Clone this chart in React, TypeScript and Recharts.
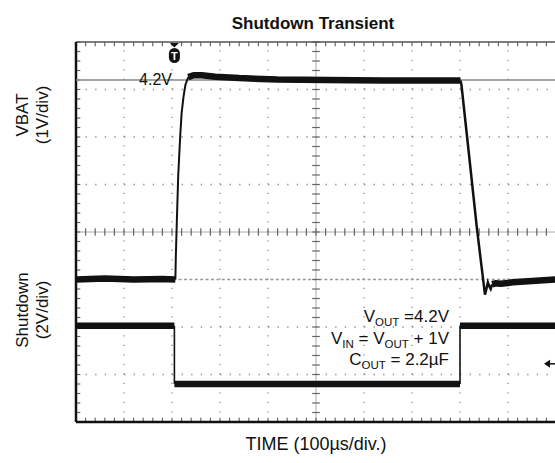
import React from 'react';
import { LineChart, Line, XAxis, YAxis, ReferenceLine, ReferenceDot } from 'recharts';

// time in µs (10 div x 100µs), VBAT in V (1V/div), Shutdown in V (2V/div)
const vbatLowT = [0, 60, 120, 180, 207];
const vbatLowV = [0.0, 0.02, 0.0, 0.01, 0.0];
const vbatRiseT = [207, 208, 210, 213, 217, 220, 224, 228, 234];
const vbatRiseV = [0.0, 0.5, 1.2, 2.2, 3.0, 3.5, 3.85, 4.1, 4.26];
const vbatHighT = [234, 245, 262, 290, 340, 420, 520, 640, 760, 801];
const vbatHighV = [4.26, 4.3, 4.3, 4.27, 4.24, 4.21, 4.2, 4.19, 4.19, 4.19];
const vbatFallT = [801, 803, 818, 835, 852, 855, 858, 861, 864, 867];
const vbatFallV = [4.19, 4.1, 2.7, 1.1, -0.32, -0.2, -0.06, -0.14, -0.2, -0.1];
const vbatTailT = [867, 874, 885, 910, 950, 1000];
const vbatTailV = [-0.1, -0.08, -0.09, -0.06, -0.03, 0.0];

const sdHighAT = [0, 100, 205];
const sdHighAV = [2.45, 2.45, 2.45];
const sdFallT = [205, 205];
const sdFallV = [2.45, 0];
const sdLowT = [205, 500, 800];
const sdLowV = [0, 0, 0];
const sdRiseT = [800, 800];
const sdRiseV = [0, 2.45];
const sdHighBT = [800, 900, 1000];
const sdHighBV = [2.45, 2.45, 2.45];

const VBAT_REF = 4.2;
const TRIGGER_T = 205;
const TRIGGER_LEVEL = 0.85; // shutdown axis

const zip = (t: number[], v: number[]) => t.map((x, i) => ({ t: x, v: v[i] }));
const range = (a: number, b: number, s: number) => {
  const out: number[] = [];
  for (let x = a; x <= b + 1e-9; x += s) out.push(+x.toFixed(3));
  return out;
};

const FONT = '"Liberation Sans", Arial, sans-serif';
const INK = '#111';
const GRID = '#8a8a8a';
const TICK = '#666';

const minorT = range(0, 1000, 20);
const minorV = range(-3, 5, 0.2);
const majorT = [100, 200, 300, 400, 600, 700, 800, 900];
const majorV = [-2, -1, 2, 3, 4];

const TriggerMark = (p: any) => {
  const { cx, cy } = p;
  return (
    <g>
      <path d={`M${cx - 4.5},${cy + 1} L${cx + 4.5},${cy + 1} L${cx},${cy + 5.5} Z`} fill={INK} />
      <rect x={cx - 5.5} y={cy + 6} width={11} height={15} rx={5.5} fill={INK} />
      <text x={cx} y={cy + 18} textAnchor="middle" fill="#fff" fontSize={11} fontWeight="bold" fontFamily={FONT}>T</text>
    </g>
  );
};

const LevelMark = (p: any) => {
  const { cx, cy } = p;
  return (
    <g>
      <line x1={cx - 8} y1={cy} x2={cx - 1} y2={cy} stroke={INK} strokeWidth={1.5} />
      <path d={`M${cx - 12},${cy} L${cx - 6},${cy - 4} L${cx - 6},${cy + 4} Z`} fill={INK} />
    </g>
  );
};

export default function App() {
  const thick = { stroke: INK, strokeWidth: 6.5, dot: false, isAnimationActive: false, strokeLinejoin: 'round' as const };
  const thin = { stroke: INK, strokeWidth: 2, dot: false, isAnimationActive: false };
  const tickLine = { stroke: TICK, strokeWidth: 1.2, ifOverflow: 'visible' as const, yAxisId: 'vbat' };
  const sub = 11.5;

  return (
    <div style={{ position: 'absolute', left: 0, top: 0, width: 555, height: 463, overflow: 'hidden', background: '#fff', fontFamily: FONT }}>
      <LineChart width={556} height={463} margin={{ top: 42, right: 0, bottom: 41, left: 76 }}>
        <XAxis type="number" dataKey="t" domain={[0, 1000]} hide allowDataOverflow />
        <YAxis yAxisId="vbat" type="number" domain={[-3, 5]} hide allowDataOverflow />
        <YAxis yAxisId="sd" type="number" domain={[-1.6, 14.4]} hide allowDataOverflow />

        {majorT.map((t) => (
          <ReferenceLine key={`gx${t}`} x={t} yAxisId="vbat" stroke={GRID} strokeWidth={1.3} strokeDasharray="1.3 8.2" />
        ))}
        {majorV.map((v) => (
          <ReferenceLine key={`gy${v}`} y={v} yAxisId="vbat" stroke={GRID} strokeWidth={1.3} strokeDasharray="1.3 8.3" />
        ))}
        <ReferenceLine y={0} yAxisId="vbat" stroke="#999" strokeWidth={1.6} strokeDasharray="3 2.4" />
        <ReferenceLine x={500} yAxisId="vbat" stroke="#aaa" strokeWidth={1} />
        <ReferenceLine y={1} yAxisId="vbat" stroke="#aaa" strokeWidth={1} />

        {minorT.map((t) => (
          <ReferenceLine key={`cx${t}`} {...tickLine} segment={[{ x: t, y: 0.92 }, { x: t, y: 1.08 }]} />
        ))}
        {minorV.map((v) => (
          <ReferenceLine key={`cy${v}`} {...tickLine} segment={[{ x: 492, y: v }, { x: 508, y: v }]} />
        ))}
        {minorT.map((t) => (
          <ReferenceLine key={`bx${t}`} {...tickLine} segment={[{ x: t, y: -3 }, { x: t, y: -2.91 }]} />
        ))}
        {minorT.map((t) => (
          <ReferenceLine key={`tx${t}`} {...tickLine} segment={[{ x: t, y: 5 }, { x: t, y: 4.91 }]} />
        ))}
        {minorV.map((v) => (
          <ReferenceLine key={`ly${v}`} {...tickLine} segment={[{ x: 0, y: v }, { x: 9, y: v }]} />
        ))}

        <ReferenceLine y={5} yAxisId="vbat" stroke="#555" strokeWidth={1.5} />
        <ReferenceLine x={1000} yAxisId="vbat" stroke="#777" strokeWidth={1} />
        <ReferenceLine y={-3} yAxisId="vbat" stroke={INK} strokeWidth={2.5} />
        <ReferenceLine x={0} yAxisId="vbat" stroke={INK} strokeWidth={2.5} />

        <ReferenceLine y={VBAT_REF} yAxisId="vbat" stroke="#888" strokeWidth={1.3} />

        <Line yAxisId="vbat" data={zip(vbatLowT, vbatLowV)} dataKey="v" {...thick} />
        <Line yAxisId="vbat" data={zip(vbatRiseT, vbatRiseV)} dataKey="v" {...thin} />
        <Line yAxisId="vbat" data={zip(vbatHighT, vbatHighV)} dataKey="v" {...thick} />
        <Line yAxisId="vbat" data={zip(vbatFallT, vbatFallV)} dataKey="v" {...thin} strokeWidth={2.5} />
        <Line yAxisId="vbat" data={zip(vbatTailT, vbatTailV)} dataKey="v" {...thick} />

        <Line yAxisId="sd" data={zip(sdHighAT, sdHighAV)} dataKey="v" {...thick} />
        <Line yAxisId="sd" data={zip(sdFallT, sdFallV)} dataKey="v" {...thin} strokeWidth={1.6} />
        <Line yAxisId="sd" data={zip(sdLowT, sdLowV)} dataKey="v" {...thick} />
        <Line yAxisId="sd" data={zip(sdRiseT, sdRiseV)} dataKey="v" {...thin} strokeWidth={1.6} />
        <Line yAxisId="sd" data={zip(sdHighBT, sdHighBV)} dataKey="v" {...thick} />

        <ReferenceDot x={TRIGGER_T} y={5} yAxisId="vbat" ifOverflow="visible" shape={TriggerMark} />
        <ReferenceDot x={1000} y={TRIGGER_LEVEL} yAxisId="sd" ifOverflow="visible" shape={LevelMark} />
      </LineChart>

      <svg width={555} height={463} style={{ position: 'absolute', left: 0, top: 0, pointerEvents: 'none' }}>
        <g fontFamily={FONT} fill={INK}>
          <text x={313} y={29} textAnchor="middle" fontSize={17} fontWeight="bold">Shutdown Transient</text>
          <text x={172} y={85} textAnchor="end" fontSize={16}>4.2V</text>
          <text x={316} y={450} textAnchor="middle" fontSize={18}>TIME (100µs/div.)</text>

          <text transform="translate(28,115) rotate(-90)" textAnchor="middle" fontSize={17}>VBAT</text>
          <text transform="translate(48,115) rotate(-90)" textAnchor="middle" fontSize={17}>(1V/div)</text>
          <text transform="translate(28,310) rotate(-90)" textAnchor="middle" fontSize={17}>Shutdown</text>
          <text transform="translate(48,310) rotate(-90)" textAnchor="middle" fontSize={17}>(2V/div)</text>

          <text x={449} y={322} textAnchor="end" fontSize={17}>
            V<tspan dy={4} fontSize={sub}>OUT</tspan><tspan dy={-4}> =4.2V</tspan>
          </text>
          <text x={449} y={344} textAnchor="end" fontSize={17}>
            V<tspan dy={4} fontSize={sub}>IN</tspan><tspan dy={-4}> = V</tspan><tspan dy={4} fontSize={sub}>OUT</tspan><tspan dy={-4}> + 1V</tspan>
          </text>
          <text x={449} y={365} textAnchor="end" fontSize={17}>
            C<tspan dy={4} fontSize={sub}>OUT</tspan><tspan dy={-4}> = 2.2µF</tspan>
          </text>
        </g>
      </svg>
    </div>
  );
}
